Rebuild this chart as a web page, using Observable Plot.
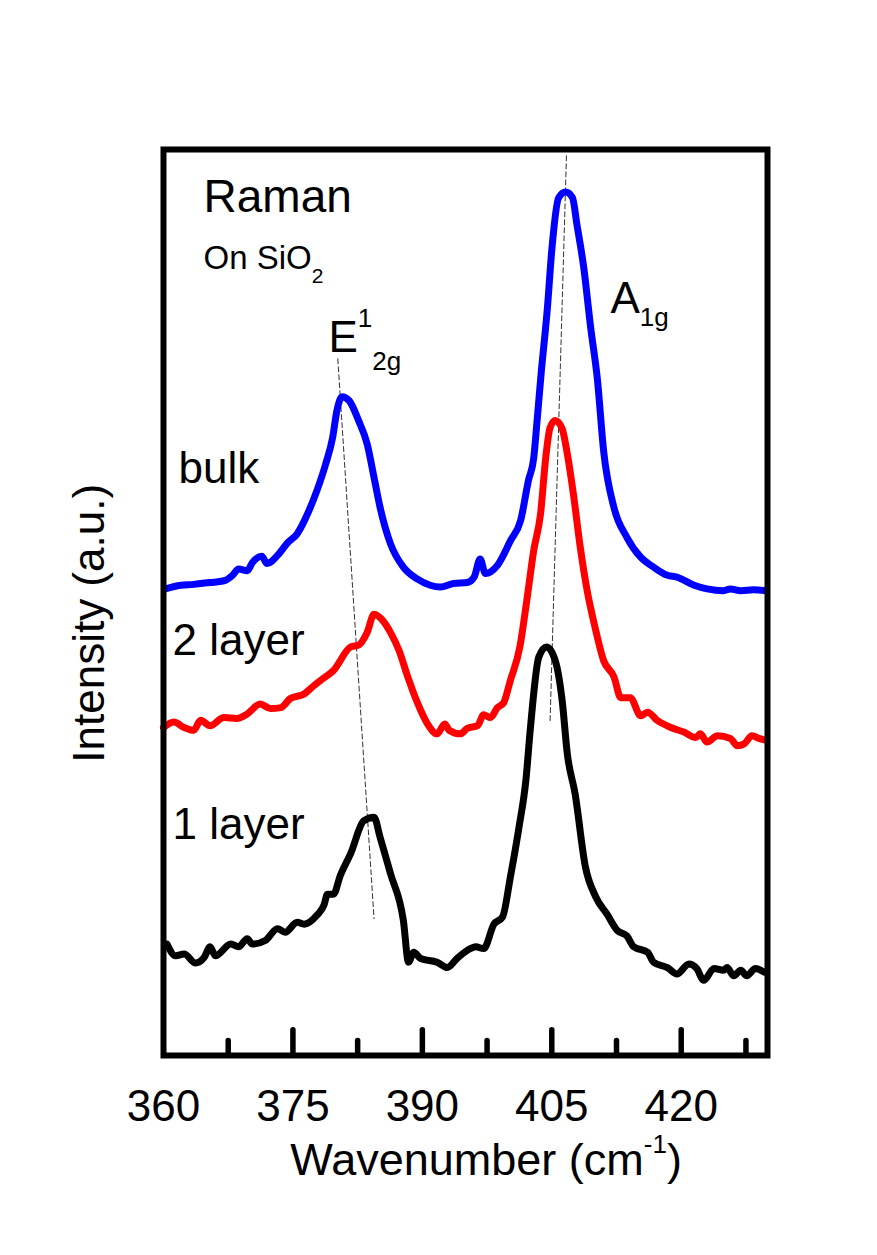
<!DOCTYPE html>
<html>
<head>
<meta charset="utf-8">
<script src="https://cdn.jsdelivr.net/npm/d3@7"></script>
<script src="https://cdn.jsdelivr.net/npm/@observablehq/plot@0.6"></script>
<style>
  html, body { margin: 0; padding: 0; background: #fff; }
</style>
</head>
<body>
<div id="chart"></div>
<script>
// ---- Data (wavenumber cm^-1, intensity a.u., offset traces) ----
const bulk = [
  [360.2,51.5],[362.0,51.9],[363.5,52.0],[365.4,52.2],[367.0,52.4],[368.0,53.0],[368.7,53.7],
  [369.7,53.5],[370.3,54.4],[371.4,55.1],[372.0,54.3],[373.4,55.4],[374.3,56.5],[375.5,57.6],
  [376.7,59.8],[377.8,62.4],[378.8,65.3],[379.6,68.2],[380.1,71.2],[380.7,72.7],[381.5,72.3],
  [382.6,70.1],[383.6,67.5],[384.4,63.8],[385.1,60.5],[386.3,56.5],[387.8,53.9],[389.4,52.6],
  [390.9,51.9],[392.1,51.7],[393.6,52.1],[395.2,52.2],[396.0,52.8],[396.7,54.8],[397.3,53.2],
  [398.7,54.1],[400.2,56.8],[401.4,59.1],[402.3,63.5],[402.9,65.9],[403.3,70.1],[403.75,75.1],
  [404.5,82.6],[405.0,88.9],[405.8,94.7],[406.6,95.3],[407.4,94.7],[407.9,91.8],[408.7,87.0],
  [409.5,80.4],[410.3,74.5],[411.0,66.8],[412.2,60.5],[413.7,57.2],[415.3,55.0],[416.8,53.9],
  [418.4,53.0],[419.5,52.8],[421.5,51.9],[423.0,51.5],[424.9,51.3],[425.7,51.5],[426.9,51.3],
  [428.4,51.4],[429.8,51.3]
];
const twoLayer = [
  [360.0,36.2],[361.2,36.8],[362.4,36.2],[363.5,35.9],[364.3,37.0],[365.4,36.4],[367.0,37.3],
  [368.5,37.2],[369.7,37.7],[371.2,38.8],[372.4,38.3],[373.6,38.4],[374.7,39.4],[376.3,39.9],
  [377.4,40.8],[378.2,41.4],[379.7,42.5],[381.7,45.1],[382.6,45.3],[383.6,46.7],[384.4,48.7],
  [385.5,47.9],[386.3,46.7],[387.3,44.7],[388.2,42.1],[389.4,39.0],[390.6,36.6],[391.7,35.5],
  [392.6,36.6],[393.1,35.9],[394.4,35.5],[395.2,36.1],[396.4,36.4],[397.1,37.6],[397.9,37.3],
  [398.7,38.4],[399.4,38.9],[400.2,41.4],[401.3,45.1],[402.1,50.2],[402.9,55.7],[403.7,59.8],
  [404.3,66.0],[404.8,69.3],[405.4,70.1],[406.2,69.2],[406.8,66.4],[407.5,62.0],[408.3,56.1],
  [409.1,51.3],[410.1,46.9],[411.0,43.6],[412.2,41.8],[413.0,39.5],[414.1,39.5],[415.3,37.5],
  [416.1,37.9],[417.2,37.0],[418.8,36.2],[420.3,35.7],[421.7,35.1],[422.2,35.5],[423.0,34.6],
  [424.2,35.3],[425.7,35.0],[426.5,34.2],[427.3,34.4],[428.2,35.3],[429.0,35.0],[429.8,34.8]
];
const oneLayer = [
  [360.4,12.3],[361.4,11.0],[362.4,11.2],[363.7,10.2],[364.7,10.8],[365.4,12.0],[366.0,11.0],
  [367.8,12.3],[368.7,12.0],[369.7,12.9],[370.3,12.3],[371.8,12.7],[373.2,14.0],[374.1,13.6],
  [375.5,14.7],[376.3,14.5],[377.8,15.5],[378.6,16.6],[379.0,17.8],[379.7,17.8],[380.5,19.9],
  [381.7,22.3],[383.2,25.9],[384.4,26.3],[385.1,24.1],[386.3,20.1],[387.8,14.9],[388.4,10.3],
  [389.0,11.4],[389.8,10.7],[391.7,10.3],[392.9,9.7],[394.0,10.7],[395.2,11.6],[396.2,12.0],
  [397.1,11.8],[398.3,14.5],[399.3,15.3],[400.2,19.7],[401.2,25.2],[402.0,30.4],[402.5,35.9],
  [403.5,44.0],[404.4,45.1],[405.4,43.6],[406.2,39.2],[406.8,33.3],[407.7,28.9],[408.9,20.8],
  [410.1,17.5],[411.4,15.6],[412.6,13.8],[413.7,13.2],[414.5,12.0],[416.1,11.4],[416.8,10.3],
  [418.4,9.7],[419.5,9.0],[420.9,10.1],[421.8,9.6],[422.6,8.3],[423.8,9.6],[424.9,9.4],
  [425.3,9.7],[426.1,8.8],[426.9,9.4],[427.6,8.8],[428.6,9.6],[429.6,9.2]
];
// peak-shift guide lines
const e2gGuide = [[380.2,76.9],[384.4,15.1]];
const a1gGuide = [[406.7,99.3],[404.8,36.8]];
// ticks
const majorTicks = [375, 390, 405, 420];
const minorTicks = [367.5, 382.5, 397.5, 412.5, 427.5];
const tickLabels = [360, 375, 390, 405, 420];

const FONT = "'Liberation Sans', Arial, Helvetica, sans-serif";

const seg = (t, size, dy) => ({t, size, dy});
const rich = {
  "Wavenumber (cm-1)": [seg("Wavenumber (cm"), seg("-1", 26, -22), seg(")", null, 22)],
  "On SiO2": [seg("On SiO"), seg("2", 21, 14)],
  "E12g": [seg("E"), seg("1", 26, -25), seg("2g", 26, 43)],
  "A1g": [seg("A"), seg("1g", 26, 13)]
};

const line = (data, stroke) => Plot.line(data, {
  x: d => d[0], y: d => d[1], stroke, strokeWidth: 7, curve: "monotone-x",
  strokeLinejoin: "round", strokeLinecap: "round"
});
const label = (text, x, y, fontSize, opts = {}) => Plot.text([text], {
  x: () => x, y: () => y, text: d => d, fontSize, textAnchor: "start",
  lineAnchor: "bottom", fill: "black", ...opts
});

const chart = Plot.plot({
  width: 877,
  height: 1255,
  marginLeft: 163,
  marginRight: 110,
  marginTop: 149,
  marginBottom: 200,
  style: {fontFamily: FONT, background: "white", overflow: "visible"},
  x: {domain: [360, 430], axis: null},
  y: {domain: [0, 100], axis: null},
  marks: [
    Plot.line(e2gGuide, {x: d => d[0], y: d => d[1], stroke: "#333", strokeWidth: 1, strokeDasharray: "5,3"}),
    Plot.line(a1gGuide, {x: d => d[0], y: d => d[1], stroke: "#333", strokeWidth: 1, strokeDasharray: "5,3"}),
    line(bulk, "#0000ff"),
    line(twoLayer, "#ff0000"),
    line(oneLayer, "#000000"),
    Plot.frame({stroke: "black", strokeWidth: 6}),
    Plot.ruleX(majorTicks, {x: d => d, y1: 0, y2: 2.8, stroke: "black", strokeWidth: 5.5, strokeLinecap: "round"}),
    Plot.ruleX(minorTicks, {x: d => d, y1: 0, y2: 1.6, stroke: "black", strokeWidth: 5.5, strokeLinecap: "round"}),
    Plot.text(tickLabels, {x: d => d, y: () => 0, text: d => String(d), dy: 65, fontSize: 44,
      textAnchor: "middle", lineAnchor: "bottom", fill: "black"}),
    label("Wavenumber (cm-1)", 374.7, -13.2, 45),
    label("Intensity (a.u.)", 353.05, 47.7, 44, {rotate: -90, textAnchor: "middle"}),
    label("Raman", 364.64, 93.1, 46),
    label("On SiO2", 364.64, 86.8, 33),
    label("E12g", 379.12, 77.6, 44),
    label("A1g", 411.8, 82.0, 44),
    label("bulk", 361.74, 63.2, 44),
    label("2 layer", 361.04, 44.2, 44),
    label("1 layer", 361.04, 23.9, 44)
  ]
});

// rich text: superscripts / subscripts as tspans
chart.querySelectorAll("text").forEach(t => {
  const segs = rich[t.textContent];
  if (!segs) return;
  t.textContent = "";
  for (const s of segs) {
    const ts = document.createElementNS("http://www.w3.org/2000/svg", "tspan");
    ts.textContent = s.t;
    if (s.size) ts.setAttribute("font-size", s.size);
    if (s.dy) ts.setAttribute("dy", s.dy);
    t.appendChild(ts);
  }
});

document.getElementById("chart").appendChild(chart);
</script>
</body>
</html>
